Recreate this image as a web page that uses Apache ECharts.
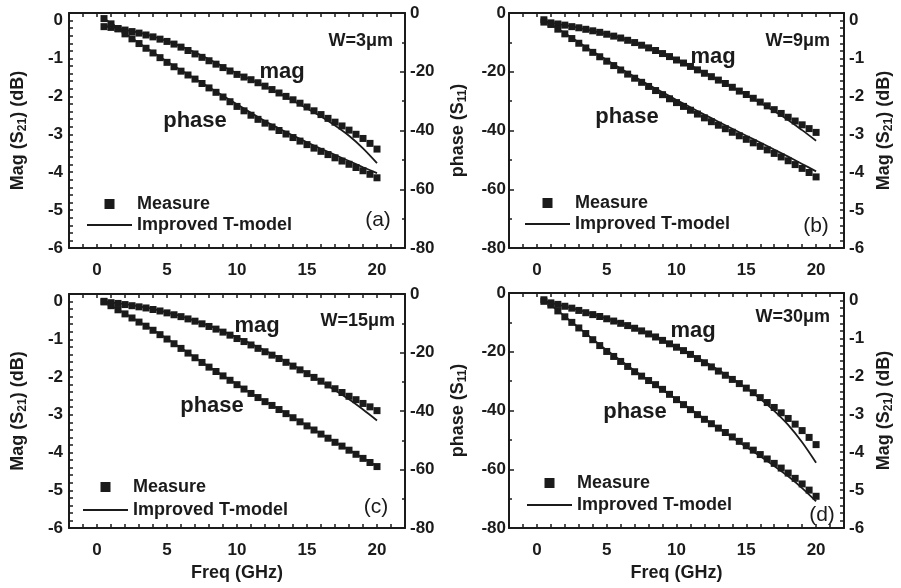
<!DOCTYPE html>
<html>
<head>
<meta charset="utf-8">
<script src="https://cdn.jsdelivr.net/npm/echarts@6/dist/echarts.min.js"></script>
<style>
html, body { margin: 0; padding: 0; background: #fff; }
#chart { width: 901px; height: 588px; }
</style>
</head>
<body>
<div id="chart"></div>
<script>
// frequency points (GHz)
var freq = [0.5, 1, 1.5, 2, 2.5, 3, 3.5, 4, 4.5, 5, 5.5, 6, 6.5, 7, 7.5, 8, 8.5, 9, 9.5, 10,
            10.5, 11, 11.5, 12, 12.5, 13, 13.5, 14, 14.5, 15, 15.5, 16, 16.5, 17, 17.5, 18, 18.5, 19, 19.5, 20];
var freqModel = [0.5, 1, 2, 3, 4, 5, 6, 7, 8, 9, 10, 11, 12, 13, 14, 15, 16, 17, 18, 19, 20];

// (a) W=3um
var magMeasA = [-0.16, -0.18, -0.21, -0.25, -0.29, -0.33, -0.38, -0.43, -0.49, -0.55, -0.62, -0.70, -0.79, -0.88, -0.97, -1.06, -1.15, -1.24, -1.33, -1.42,
                -1.49, -1.56, -1.64, -1.73, -1.82, -1.91, -2.00, -2.09, -2.18, -2.28, -2.38, -2.48, -2.58, -2.68, -2.78, -2.89, -3.00, -3.11, -3.24, -3.39];
var magModelA = [-0.15, -0.17, -0.24, -0.32, -0.42, -0.54, -0.68, -0.84, -1.02, -1.21, -1.39, -1.56, -1.74, -1.92, -2.11, -2.32, -2.53, -2.77, -3.04, -3.37, -3.76];
var phaseMeasA = [-1.9, -3.7, -5.4, -7.1, -8.8, -10.4, -12.0, -13.6, -15.2, -16.8, -18.3, -19.8, -21.1, -22.5, -24.0, -25.5, -27.0, -28.6, -30.2, -31.8,
                  -33.3, -34.8, -36.2, -37.5, -38.8, -40.0, -41.2, -42.4, -43.6, -44.8, -46.0, -47.1, -48.2, -49.3, -50.4, -51.5, -52.6, -53.7, -54.9, -56.1];
var phaseModelA = [-1.8, -3.5, -6.9, -10.2, -13.4, -16.5, -19.5, -22.4, -25.3, -28.2, -31.1, -34.0, -36.8, -39.3, -41.7, -44.0, -46.2, -48.3, -50.4, -52.5, -54.5];

// (b) W=9um
var magMeasB = [-0.04, -0.06, -0.09, -0.12, -0.16, -0.19, -0.23, -0.27, -0.31, -0.36, -0.41, -0.46, -0.52, -0.58, -0.65, -0.72, -0.79, -0.87, -0.95, -1.04,
                -1.12, -1.21, -1.30, -1.39, -1.48, -1.57, -1.66, -1.76, -1.86, -1.95, -2.05, -2.15, -2.25, -2.35, -2.45, -2.55, -2.65, -2.75, -2.85, -2.95];
var magModelB = [-0.03, -0.06, -0.12, -0.19, -0.27, -0.36, -0.46, -0.58, -0.71, -0.86, -1.02, -1.19, -1.37, -1.56, -1.76, -1.96, -2.17, -2.39, -2.62, -2.89, -3.17];
var phaseMeasB = [-2.3, -3.9, -5.5, -7.1, -8.7, -10.3, -11.9, -13.4, -14.9, -16.4, -17.9, -19.4, -20.8, -22.2, -23.6, -25.0, -26.4, -27.8, -29.2, -30.5,
                  -31.8, -33.1, -34.4, -35.7, -37.0, -38.2, -39.4, -40.6, -41.8, -43.0, -44.2, -45.4, -46.6, -47.8, -49.0, -50.3, -51.6, -52.9, -54.3, -55.8];
var phaseModelB = [-2.2, -3.8, -6.9, -10.0, -13.1, -16.0, -18.9, -21.7, -24.4, -27.0, -29.6, -32.1, -34.6, -37.0, -39.4, -41.8, -44.1, -46.5, -48.9, -51.4, -53.9];

// (c) W=15um
var magMeasC = [-0.01, -0.03, -0.05, -0.08, -0.11, -0.14, -0.17, -0.21, -0.25, -0.30, -0.35, -0.40, -0.46, -0.52, -0.59, -0.66, -0.73, -0.81, -0.89, -0.98,
                -1.06, -1.15, -1.24, -1.33, -1.42, -1.51, -1.61, -1.71, -1.81, -1.91, -2.01, -2.11, -2.21, -2.31, -2.41, -2.51, -2.60, -2.70, -2.79, -2.89];
var magModelC = [0, -0.02, -0.07, -0.13, -0.20, -0.29, -0.39, -0.51, -0.64, -0.79, -0.95, -1.12, -1.30, -1.49, -1.69, -1.90, -2.12, -2.35, -2.59, -2.86, -3.15];
var phaseMeasC = [-2.5, -4.0, -5.4, -6.8, -8.2, -9.6, -11.0, -12.4, -13.9, -15.4, -17.0, -18.6, -20.2, -21.8, -23.4, -25.0, -26.5, -28.0, -29.5, -31.0,
                  -32.5, -34.0, -35.4, -36.8, -38.1, -39.5, -40.9, -42.3, -43.7, -45.1, -46.5, -47.9, -49.3, -50.7, -52.0, -53.4, -54.8, -56.2, -57.6, -59.0];
var phaseModelC = [-2.4, -3.9, -6.7, -9.5, -12.3, -15.3, -18.5, -21.7, -24.9, -27.9, -30.9, -33.9, -36.7, -39.4, -42.2, -45.0, -47.8, -50.6, -53.3, -56.1, -58.9];

// (d) W=30um
var magMeasD = [-0.02, -0.06, -0.10, -0.15, -0.20, -0.26, -0.32, -0.37, -0.42, -0.48, -0.54, -0.60, -0.66, -0.73, -0.80, -0.88, -0.96, -1.05, -1.14, -1.23,
                -1.32, -1.42, -1.53, -1.64, -1.75, -1.86, -1.97, -2.08, -2.19, -2.31, -2.43, -2.56, -2.69, -2.82, -2.96, -3.11, -3.26, -3.43, -3.61, -3.80];
var magModelD = [-0.02, -0.06, -0.15, -0.25, -0.36, -0.47, -0.59, -0.72, -0.87, -1.04, -1.22, -1.41, -1.61, -1.83, -2.06, -2.31, -2.59, -2.91, -3.28, -3.74, -4.28];
var phaseMeasD = [-2.3, -4.1, -6.1, -8.1, -10.0, -11.9, -13.8, -15.9, -17.9, -19.9, -21.6, -23.3, -25.0, -26.8, -28.3, -29.8, -31.2, -32.8, -34.5, -36.3,
                  -38.0, -39.7, -41.4, -43.0, -44.5, -46.0, -47.5, -49.0, -50.5, -52.0, -53.5, -55.0, -56.5, -58.0, -59.6, -61.3, -63.1, -65.0, -67.1, -69.2];
var phaseModelD = [-2.2, -4.0, -8.0, -11.8, -15.7, -19.5, -23.0, -26.5, -29.8, -33.0, -36.2, -39.5, -42.8, -46.0, -49.2, -52.4, -55.6, -58.9, -62.4, -66.4, -70.9];

// tick labels
var freqTicks = [0, 5, 10, 15, 20];
var magTicks = [-6, -5, -4, -3, -2, -1, 0];
var phaseTicks = [-80, -60, -40, -20, 0];

var INK = '#1b1b1b';
var FONT = 'Liberation Sans, Arial, sans-serif';

function pairs(xs, ys) {
    return xs.map(function (x, i) { return [x, ys[i]]; });
}

var magName = '{t|Mag (S}{s|21}{t|) (dB)}';
var phaseName = '{t|phase (S}{s|11}{t|)}';
var nameRich = {
    t: {fontSize: 18, fontWeight: 'bold', color: INK, fontFamily: FONT},
    s: {fontSize: 12, fontWeight: 'bold', color: INK, fontFamily: FONT, padding: [9, 0, 0, 0]}
};

var panels = [
    {grid: {left: 69, top: 13, width: 336, height: 235}, magSide: 'left', xName: '',
     mag: [magMeasA, magModelA], phase: [phaseMeasA, phaseModelA], phaseTitle: false,
     legend: {left: 82, top: 190, gap: 3},
     w: {text: 'W=3μm', x: 393, y: 41}, magLbl: [282, 72], phaseLbl: [195, 121], tag: {text: '(a)', x: 378, y: 220}},
    {grid: {left: 509, top: 13, width: 335, height: 235}, magSide: 'right', xName: '',
     mag: [magMeasB, magModelB], phase: [phaseMeasB, phaseModelB], phaseTitle: true,
     legend: {left: 520, top: 189, gap: 3},
     w: {text: 'W=9μm', x: 830, y: 41}, magLbl: [713, 57], phaseLbl: [627, 117], tag: {text: '(b)', x: 816, y: 226}},
    {grid: {left: 69, top: 294, width: 336, height: 234}, magSide: 'left', xName: 'Freq (GHz)',
     mag: [magMeasC, magModelC], phase: [phaseMeasC, phaseModelC], phaseTitle: false,
     legend: {left: 78, top: 473, gap: 5},
     w: {text: 'W=15μm', x: 395, y: 321}, magLbl: [257, 326], phaseLbl: [212, 406], tag: {text: '(c)', x: 376, y: 507}},
    {grid: {left: 509, top: 293, width: 335, height: 235}, magSide: 'right', xName: 'Freq (GHz)',
     mag: [magMeasD, magModelD], phase: [phaseMeasD, phaseModelD], phaseTitle: true,
     legend: {left: 522, top: 469, gap: 4},
     w: {text: 'W=30μm', x: 830, y: 317}, magLbl: [693, 331], phaseLbl: [635, 412], tag: {text: '(d)', x: 822, y: 515}}
];

var grids = [], xAxes = [], yAxes = [], series = [], legends = [], graphics = [];

var labelStyle = {fontSize: 17, fontWeight: 'bold', color: INK, fontFamily: FONT};

panels.forEach(function (p, i) {
    grids.push(p.grid);
    var baseX = {
        gridIndex: i, type: 'value', min: -2, max: 22, interval: 1,
        axisLine: {onZero: false, lineStyle: {color: INK, width: 2}},
        axisTick: {inside: true, length: 4, lineStyle: {color: INK, width: 1.5}},
        splitLine: {show: false}
    };
    xAxes.push(Object.assign({}, baseX, {
        position: 'bottom',
        axisLabel: Object.assign({customValues: freqTicks, margin: 14}, labelStyle),
        name: p.xName, nameLocation: 'middle', nameGap: 36,
        nameTextStyle: {fontSize: 18, fontWeight: 'bold', color: INK, fontFamily: FONT}
    }));
    xAxes.push(Object.assign({}, baseX, {position: 'top', axisLabel: {show: false}}));

    var magAxis = {
        gridIndex: i, type: 'value', position: p.magSide, min: -6, max: 0.2, interval: 0.2,
        axisLine: {show: true, onZero: false, lineStyle: {color: INK, width: 2}},
        axisTick: {inside: true, length: 4, lineStyle: {color: INK, width: 1.5}},
        axisLabel: Object.assign({customValues: magTicks, margin: p.magSide === 'left' ? 6 : 5}, labelStyle),
        splitLine: {show: false},
        name: magName, nameLocation: 'middle', nameRotate: 90,
        nameGap: p.magSide === 'left' ? 40 : 30,
        nameTextStyle: {rich: nameRich}
    };
    var phaseAxis = {
        gridIndex: i, type: 'value', position: p.magSide === 'left' ? 'right' : 'left',
        min: -80, max: 0, interval: 20,
        axisLine: {show: true, onZero: false, lineStyle: {color: INK, width: 2}},
        axisTick: {inside: true, length: 5, lineStyle: {color: INK, width: 1.5}},
        minorTick: {show: true, splitNumber: 2, length: 3, lineStyle: {color: INK, width: 1.5}},
        axisLabel: Object.assign({customValues: phaseTicks, margin: p.magSide === 'left' ? 5 : 3}, labelStyle),
        splitLine: {show: false}, minorSplitLine: {show: false},
        name: p.phaseTitle ? phaseName : '', nameLocation: 'middle', nameRotate: 90,
        nameGap: 40,
        nameTextStyle: {rich: nameRich}
    };
    var magIdx = yAxes.length, phaseIdx = yAxes.length + 1;
    yAxes.push(magAxis, phaseAxis);

    var xi = i * 2;
    [[p.mag, magIdx], [p.phase, phaseIdx]].forEach(function (d) {
        series.push({
            type: 'scatter', name: 'Measure', xAxisIndex: xi, yAxisIndex: d[1],
            data: pairs(freq, d[0][0]), symbol: 'rect', symbolSize: 7,
            itemStyle: {color: INK, opacity: 1}, z: 2, silent: true
        });
        series.push({
            type: 'line', name: 'Improved T-model', xAxisIndex: xi, yAxisIndex: d[1],
            data: pairs(freqModel, d[0][1]), symbol: 'none', smooth: 0.3,
            itemStyle: {color: INK}, lineStyle: {color: INK, width: 1.8}, z: 3, silent: true
        });
    });

    legends.push({
        left: p.legend.left, top: p.legend.top, orient: 'vertical', itemGap: p.legend.gap,
        itemWidth: 45, itemHeight: 10, selectedMode: false, symbolKeepAspect: true,
        data: [
            {name: 'Measure', icon: 'path://M0,0H10V10H0Z'},
            {name: 'Improved T-model', icon: 'path://M0,0H45V2H0Z'}
        ],
        textStyle: {fontSize: 18, fontWeight: 'bold', color: INK, fontFamily: FONT}
    });

    graphics.push(
        {type: 'text', style: {text: p.w.text, x: p.w.x, y: p.w.y, textAlign: 'right', textVerticalAlign: 'middle',
            fontSize: 18, fontWeight: 'bold', fontFamily: FONT, fill: INK}},
        {type: 'text', style: {text: 'mag', x: p.magLbl[0], y: p.magLbl[1], textAlign: 'center', textVerticalAlign: 'middle',
            fontSize: 22, fontWeight: 'bold', fontFamily: FONT, fill: INK}},
        {type: 'text', style: {text: 'phase', x: p.phaseLbl[0], y: p.phaseLbl[1], textAlign: 'center', textVerticalAlign: 'middle',
            fontSize: 22, fontWeight: 'bold', fontFamily: FONT, fill: INK}},
        {type: 'text', style: {text: p.tag.text, x: p.tag.x, y: p.tag.y, textAlign: 'center', textVerticalAlign: 'middle',
            fontSize: 21, fontFamily: FONT, fill: INK}}
    );
});

var chart = echarts.init(document.getElementById('chart'), null, {renderer: 'canvas'});
chart.setOption({
    animation: false,
    backgroundColor: '#fff',
    grid: grids,
    xAxis: xAxes,
    yAxis: yAxes,
    legend: legends,
    series: series,
    graphic: graphics
});
</script>
</body>
</html>
